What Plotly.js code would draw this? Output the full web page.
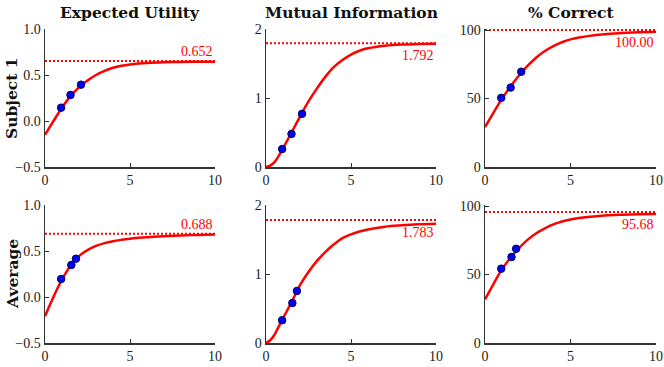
<!DOCTYPE html>
<html>
<head>
<meta charset="utf-8">
<script src="https://cdn.plot.ly/plotly-3.0.1.min.js"></script>
<style>
  html, body { margin: 0; padding: 0; background: white; }
  #plot { width: 664px; height: 367px; }
</style>
</head>
<body>
<div id="plot"></div>
<script>
// panel titles and row labels
const colTitles = ["Expected Utility", "Mutual Information", "% Correct"];
const rowTitles = ["Subject 1", "Average"];

const curveX = [0, 0.25, 0.5, 0.75, 1, 1.5, 2, 2.5, 3, 3.5, 4, 4.5, 5, 5.5, 6, 7, 8, 9, 10];

// fitted curves
const euSubject = [-0.152, -0.075, 0.0, 0.073, 0.145, 0.27, 0.365, 0.44, 0.50, 0.545, 0.578, 0.60, 0.615, 0.625, 0.631, 0.638, 0.642, 0.644, 0.645];
const miSubject = [0, 0.02, 0.07, 0.16, 0.27, 0.50, 0.73, 0.95, 1.14, 1.31, 1.45, 1.55, 1.63, 1.685, 1.72, 1.757, 1.774, 1.781, 1.785];
const pcSubject = [29.2, 34.5, 39.8, 45, 50, 59, 67, 74, 80, 84.7, 88.3, 91.1, 93.2, 94.6, 95.6, 97, 97.8, 98.4, 98.8];
const euAverage = [-0.21, -0.10, 0.0, 0.10, 0.19, 0.34, 0.445, 0.51, 0.555, 0.586, 0.607, 0.622, 0.634, 0.643, 0.65, 0.661, 0.669, 0.675, 0.679];
const miAverage = [0, 0.04, 0.12, 0.24, 0.36, 0.59, 0.84, 1.03, 1.19, 1.32, 1.43, 1.52, 1.575, 1.615, 1.645, 1.685, 1.705, 1.72, 1.73];
const pcAverage = [31.9, 37.5, 43.2, 48.8, 54, 62.5, 69.5, 75.5, 80.2, 83.8, 86.6, 88.7, 90.2, 91.3, 92.1, 93.2, 93.7, 94.0, 94.2];

// observed points
const obsXSubject = [0.95, 1.5, 2.12];
const obsXAverage = [0.95, 1.55, 1.82];
const euSubjectObs = [0.145, 0.283, 0.395];
const miSubjectObs = [0.26, 0.48, 0.77];
const pcSubjectObs = [50.5, 58, 69.6];
const euAverageObs = [0.196, 0.348, 0.416];
const miAverageObs = [0.33, 0.58, 0.754];
const pcAverageObs = [54.3, 62.8, 68.8];

// asymptotes (dotted lines + labels)
const asymSubject = [0.652, 1.792, 100.00];
const asymAverage = [0.688, 1.783, 95.68];
const asymLabelsSubject = ["0.652", "1.792", "100.00"];
const asymLabelsAverage = ["0.688", "1.783", "95.68"];

// axis settings per column
const yRanges = [[-0.5, 1.0], [0, 2], [0, 100.8]];
const yTicks = [[-0.5, 0, 0.5, 1.0], [0, 1, 2], [0, 50, 100]];
const yTickText = [["\u22120.5", "0.0", "0.5", "1.0"], ["0", "1", "2"], ["0", "50", "100"]];
const labelAbove = [true, false, false];

const W = 664, H = 367;
const colPx = [[45, 215], [266, 436], [485, 656]];
const rowPx = [[29, 167], [205, 343]];

const curves = [[euSubject, miSubject, pcSubject], [euAverage, miAverage, pcAverage]];
const obsX = [obsXSubject, obsXAverage];
const obsY = [[euSubjectObs, miSubjectObs, pcSubjectObs], [euAverageObs, miAverageObs, pcAverageObs]];
const asym = [asymSubject, asymAverage];
const asymLabels = [asymLabelsSubject, asymLabelsAverage];

const serif = "Liberation Serif, DejaVu Serif, serif";
const boldSerif = "DejaVu Serif, Liberation Serif, serif";
const traces = [];
const annotations = [];
const layout = {
  width: W, height: H,
  margin: { l: 0, r: 0, t: 0, b: 0 },
  paper_bgcolor: "white", plot_bgcolor: "white",
  showlegend: false,
  font: { family: serif, size: 13, color: "#222" }
};

function axisStyle() {
  return {
    showgrid: false, zeroline: false,
    showline: true, linecolor: "#333", linewidth: 1.5,
    ticks: "inside", ticklen: 4, tickcolor: "#333", tickwidth: 1,
    ticklabeloverflow: "allow",
    tickfont: { family: serif, size: 14, color: "#222" }
  };
}

for (let r = 0; r < 2; r++) {
  for (let c = 0; c < 3; c++) {
    const k = r * 3 + c + 1;
    const suffix = k === 1 ? "" : String(k);
    const xa = "x" + suffix;
    const ya = "y" + suffix;

    layout["xaxis" + suffix] = Object.assign(axisStyle(), {
      domain: [colPx[c][0] / W, colPx[c][1] / W],
      anchor: ya, range: [0, 10],
      tickvals: [0, 5, 10]
    });
    layout["yaxis" + suffix] = Object.assign(axisStyle(), {
      domain: [1 - rowPx[r][1] / H, 1 - rowPx[r][0] / H],
      anchor: xa, range: yRanges[c],
      tickvals: yTicks[c], ticktext: yTickText[c]
    });

    // asymptote
    traces.push({
      x: [0, 10], y: [asym[r][c], asym[r][c]],
      xaxis: xa, yaxis: ya, mode: "lines",
      line: { color: "red", width: 2, dash: "2px,2px" },
      hoverinfo: "skip"
    });
    // fitted curve
    traces.push({
      x: curveX, y: curves[r][c],
      xaxis: xa, yaxis: ya, mode: "lines",
      line: { color: "red", width: 2.5, shape: "spline", smoothing: 1 }
    });
    // observed points
    traces.push({
      x: obsX[r], y: obsY[r][c],
      xaxis: xa, yaxis: ya, mode: "markers",
      marker: { color: "#0000f0", size: 7.5, line: { color: "#000060", width: 1 } }
    });

    annotations.push({
      xref: xa, yref: ya, x: 10, y: asym[r][c],
      text: asymLabels[r][c], showarrow: false,
      xanchor: "right", yanchor: labelAbove[c] ? "bottom" : "top",
      yshift: labelAbove[c] ? 0 : -3,
      font: { family: serif, size: 14, color: "red" }
    });

    if (r === 0) {
      annotations.push({
        xref: "paper", yref: "paper",
        x: (colPx[c][0] + colPx[c][1]) / 2 / W, y: 1 - 12 / H,
        text: "<b>" + colTitles[c] + "</b>", showarrow: false,
        xanchor: "center", yanchor: "middle",
        font: { family: boldSerif, size: 15.5, color: "#111" }
      });
    }
  }
  annotations.push({
    xref: "paper", yref: "paper",
    x: 12 / W, y: 1 - (rowPx[r][0] + rowPx[r][1]) / 2 / H,
    text: "<b>" + rowTitles[r] + "</b>", showarrow: false,
    textangle: -90, xanchor: "center", yanchor: "middle",
    font: { family: boldSerif, size: 15.5, color: "#111" }
  });
}

layout.annotations = annotations;
Plotly.newPlot("plot", traces, layout, { displayModeBar: false, staticPlot: true });
</script>
</body>
</html>
